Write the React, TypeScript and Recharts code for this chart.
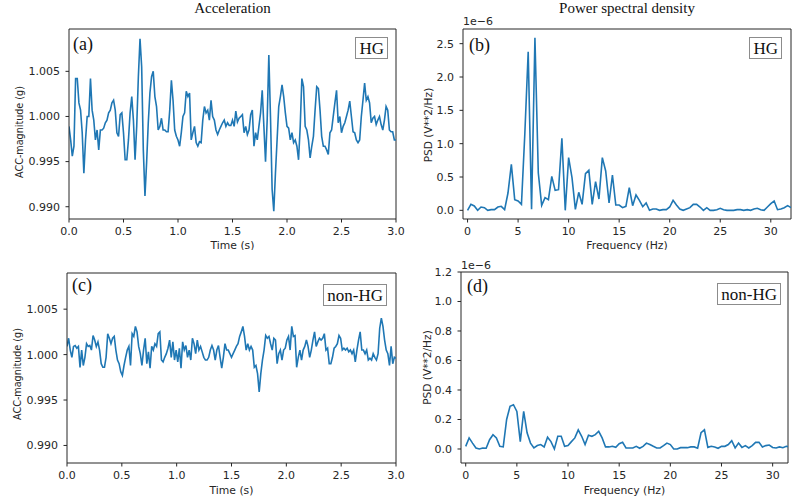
import React from 'react';
import { LineChart, Line, XAxis, YAxis, ReferenceLine, Label } from 'recharts';

// (a) acceleration magnitude, HG subject, 0..3 s (g)
const ACC_HG = [
  0.9989, 0.9974, 0.9956, 0.9967, 1.0042, 1.0042, 1.0015, 1.0007, 0.9982, 0.9937,
  0.9974, 1.0000, 1.0000, 1.0042, 1.0007, 0.9996, 0.9974, 0.9985, 0.9963, 0.9985,
  0.9985, 0.9987, 0.9993, 0.9996, 1.0004, 1.0007, 1.0015, 1.0018, 1.0007, 0.9982,
  0.9978, 1.0002, 1.0004, 0.9982, 0.9952, 0.9952, 0.9974, 1.0004, 1.0022, 0.9996,
  0.9952, 0.9989, 1.0044, 1.0086, 1.0055, 0.9963, 0.9912, 0.9949, 0.9993, 1.0026,
  1.0044, 1.0050, 1.0022, 1.0011, 0.9985, 0.9989, 0.9998, 0.9985, 0.9985, 0.9983,
  0.9983, 1.0007, 1.0040, 1.0018, 0.9985, 0.9978, 0.9974, 0.9967, 0.9982, 1.0000,
  1.0004, 1.0028, 1.0022, 1.0026, 0.9974, 0.9982, 0.9989, 0.9971, 0.9967, 0.9972,
  0.9971, 0.9996, 1.0011, 1.0004, 1.0007, 0.9996, 1.0018, 1.0000, 0.9996, 0.9985,
  0.9980, 0.9985, 0.9989, 0.9993, 0.9996, 0.9989, 0.9993, 0.9990, 0.9990, 0.9996,
  0.9989, 1.0006, 0.9994, 0.9998, 1.0000, 1.0002, 0.9982, 0.9989, 0.9980, 0.9985,
  1.0002, 1.0007, 0.9967, 0.9982, 0.9974, 0.9989, 1.0004, 1.0029, 0.9989, 0.9950,
  0.9996, 1.0068, 1.0000, 0.9919, 0.9895, 0.9937, 0.9974, 1.0011, 1.0022, 1.0035,
  1.0022, 1.0004, 0.9989, 0.9987, 0.9974, 0.9982, 0.9971, 0.9974, 0.9967, 0.9952,
  0.9989, 1.0042, 1.0033, 0.9989, 0.9985, 0.9974, 0.9954, 0.9967, 0.9978, 1.0007,
  1.0033, 1.0031, 1.0007, 0.9978, 0.9967, 0.9967, 0.9963, 0.9958, 0.9982, 0.9985,
  1.0000, 1.0015, 1.0029, 0.9993, 1.0000, 0.9982, 0.9989, 0.9993, 1.0000, 1.0007,
  1.0017, 1.0000, 0.9983, 0.9982, 0.9974, 0.9971, 0.9974, 1.0000, 1.0018, 1.0037,
  1.0018, 1.0022, 1.0015, 0.9993, 0.9998, 1.0000, 0.9991, 0.9996, 1.0000, 0.9991,
  0.9985, 0.9996, 1.0011, 1.0007, 0.9985, 0.9983, 0.9983, 0.9974, 0.9974,
];

// (c) acceleration magnitude, non-HG subject, 0..3 s (g)
const ACC_NON_HG = [
  1.0009, 1.0018, 1.0005, 0.9997, 1.0009, 1.0010, 1.0007, 1.0009, 0.9986, 1.0005,
  0.9988, 0.9997, 1.0012, 1.0009, 1.0010, 1.0005, 1.0021, 1.0016, 1.0009, 1.0014,
  1.0005, 0.9990, 0.9986, 0.9986, 0.9997, 1.0023, 1.0018, 1.0012, 1.0018, 1.0020,
  1.0005, 0.9994, 0.9990, 0.9981, 0.9977, 0.9988, 0.9997, 1.0005, 1.0009, 0.9988,
  1.0023, 1.0020, 1.0031, 1.0025, 1.0009, 1.0001, 0.9988, 1.0005, 1.0018, 0.9990,
  1.0003, 0.9985, 1.0009, 1.0005, 1.0012, 1.0009, 1.0023, 1.0025, 0.9994, 0.9992,
  0.9997, 1.0001, 1.0007, 1.0016, 0.9997, 1.0014, 0.9994, 1.0005, 0.9992, 1.0007,
  0.9985, 1.0014, 1.0005, 1.0010, 0.9997, 1.0005, 0.9994, 1.0018, 1.0012, 1.0001,
  1.0016, 1.0005, 1.0009, 1.0003, 0.9997, 0.9994, 0.9994, 0.9997, 1.0005, 1.0010,
  1.0005, 0.9994, 1.0005, 1.0010, 0.9997, 0.9985, 0.9997, 1.0012, 1.0005, 1.0005,
  1.0001, 0.9997, 1.0001, 1.0005, 1.0009, 1.0012, 1.0020, 1.0025, 1.0031, 1.0020,
  1.0005, 1.0012, 1.0005, 1.0009, 1.0005, 0.9986, 0.9988, 0.9979, 0.9959, 0.9979,
  0.9994, 1.0005, 1.0021, 1.0018, 1.0020, 1.0012, 1.0005, 1.0018, 1.0016, 0.9990,
  1.0001, 1.0005, 0.9994, 1.0005, 1.0007, 1.0016, 1.0020, 1.0005, 1.0031, 1.0020,
  1.0021, 0.9986, 0.9997, 1.0005, 0.9994, 1.0005, 1.0009, 1.0016, 1.0009, 0.9997,
  1.0005, 1.0016, 1.0025, 1.0009, 1.0014, 1.0018, 1.0016, 1.0018, 1.0023, 1.0005,
  1.0007, 0.9990, 0.9990, 0.9997, 1.0007, 1.0009, 1.0012, 1.0021, 1.0018, 1.0005,
  1.0007, 1.0005, 1.0007, 1.0003, 1.0005, 1.0001, 1.0005, 0.9992, 1.0005, 1.0016,
  1.0025, 1.0005, 1.0005, 1.0001, 1.0005, 0.9994, 0.9996, 0.9994, 1.0001, 0.9997,
  0.9994, 1.0001, 1.0029, 1.0040, 1.0031, 1.0016, 1.0005, 1.0001, 0.9988, 1.0009,
  0.9990, 0.9997, 0.9996,
];

// (b) PSD, HG subject, in units of 1e-6 V**2/Hz, bins every 1/3 Hz from 0 Hz
const PSD_HG = [
  0.00, 0.09, 0.065, 0.00, 0.05, 0.04, 0.00, 0.01, 0.01, 0.05,
  0.06, 0.01, 0.26, 0.69, 0.16, 0.14, 0.09, 1.15, 2.38, 0.015,
  2.59, 0.56, 0.075, 0.19, 0.16, 0.51, 0.30, 0.31, 1.08, 0.00,
  0.79, 0.49, 0.015, 0.27, 0.09, 0.55, 0.60, 0.09, 0.43, 0.17,
  0.79, 0.59, 0.11, 0.53, 0.08, 0.08, 0.04, 0.06, 0.34, 0.07,
  0.23, 0.15, 0.055, 0.11, 0.00, 0.02, 0.02, 0.00, 0.01, 0.01,
  0.05, 0.15, 0.08, 0.02, 0.00, 0.02, 0.04, 0.09, 0.09, 0.05,
  0.00, 0.04, 0.00, 0.00, 0.01, 0.03, 0.01, 0.00, 0.00, 0.00,
  0.01, 0.01, 0.00, 0.01, 0.00, 0.02, 0.03, 0.01, 0.00, 0.05,
  0.10, 0.14, 0.01, 0.02, 0.04, 0.07, 0.04,
];

// (d) PSD, non-HG subject, same units and bins
const PSD_NON_HG = [
  0.018, 0.075, 0.04, 0.007, 0.0, 0.007, 0.005, 0.063, 0.097, 0.075,
  0.018, 0.014, 0.20, 0.29, 0.30, 0.255, 0.05, 0.255, 0.11, 0.04,
  0.007, 0.023, 0.03, 0.014, 0.08, 0.05, 0.0, 0.086, 0.086, 0.018,
  0.023, 0.05, 0.075, 0.13, 0.086, 0.03, 0.093, 0.086, 0.097, 0.12,
  0.075, 0.014, 0.014, 0.018, 0.011, 0.036, 0.045, 0.007, 0.007, 0.007,
  0.018, 0.005, 0.018, 0.04, 0.03, 0.018, 0.007, 0.007, 0.023, 0.04,
  0.03, 0.0, 0.0, 0.009, 0.009, 0.009, 0.014, 0.014, 0.005, 0.11,
  0.13, 0.011, 0.018, 0.014, 0.005, 0.018, 0.018, 0.03, 0.056, 0.007,
  0.04, 0.011, 0.023, 0.007, 0.023, 0.045, 0.045, 0.014, 0.023, 0.027,
  0.01, 0.007, 0.014, 0.009, 0.018, 0.014, 0.01,
];

const DURATION = 3; // seconds
const FREQ_STEP = 1 / 3; // Hz per PSD bin

const TIME_TICKS = [0, 0.5, 1, 1.5, 2, 2.5, 3];
const ACC_TICKS = [0.99, 0.995, 1.0, 1.005];
const FREQ_TICKS = [0, 5, 10, 15, 20, 25, 30];
const PSD_HG_TICKS = [0, 0.5, 1.0, 1.5, 2.0, 2.5];
const PSD_NON_HG_TICKS = [0, 0.2, 0.4, 0.6, 0.8, 1.0, 1.2];

const toSeries = (values: number[], step: number) =>
  values.map((v, i) => ({ x: i * step, v }));

const accHgData = toSeries(ACC_HG, DURATION / (ACC_HG.length - 1));
const accNonHgData = toSeries(ACC_NON_HG, DURATION / (ACC_NON_HG.length - 1));
const psdHgData = toSeries(PSD_HG, FREQ_STEP);
const psdNonHgData = toSeries(PSD_NON_HG, FREQ_STEP);

const BLUE = '#1f77b4';
const INK = '#262626';
const SANS = '"DejaVu Sans", sans-serif';
const SERIF = '"Liberation Serif", "Times New Roman", serif';

const tickStyle = { fontSize: 11, fill: INK, fontFamily: SANS };

type PanelProps = {
  left: number;
  top: number;
  width: number;
  height: number;
  margin: { top: number; right: number; bottom: number; left: number };
  yWidth: number;
  xHeight: number;
  data: { x: number; v: number }[];
  xDomain: [number, number];
  xTicks: number[];
  xDigits: number;
  xLabel: string;
  xLabelGap: number;
  yDomain: [number, number];
  yTicks: number[];
  yDigits: number;
  yLabel: string;
  yLabelX: number;
  yLabelShift: number;
  yLabelSize: number;
};

function Panel(p: PanelProps) {
  return (
    <div style={{ position: 'absolute', left: p.left, top: p.top }}>
      <LineChart width={p.width} height={p.height} data={p.data} margin={p.margin}>
        <XAxis
          dataKey="x"
          type="number"
          domain={p.xDomain}
          ticks={p.xTicks}
          interval={0}
          allowDataOverflow
          tickFormatter={(v: number) => v.toFixed(p.xDigits)}
          height={p.xHeight}
          tickSize={3.5}
          tickMargin={5}
          stroke={INK}
          tick={tickStyle}
        >
          <Label
            content={({ viewBox }: any) => (
              <text
                x={viewBox.x + viewBox.width / 2}
                y={viewBox.y + p.xLabelGap}
                textAnchor="middle"
                dominantBaseline="central"
                fontSize={10.8}
                fill={INK}
                fontFamily={SANS}
              >
                {p.xLabel}
              </text>
            )}
          />
        </XAxis>
        <YAxis
          type="number"
          domain={p.yDomain}
          ticks={p.yTicks}
          interval={0}
          allowDataOverflow
          tickFormatter={(v: number) => v.toFixed(p.yDigits)}
          width={p.yWidth}
          tickSize={3.5}
          tickMargin={5.5}
          stroke={INK}
          tick={tickStyle}
        >
          <Label
            content={({ viewBox }: any) => {
              const cy = viewBox.y + viewBox.height / 2 + p.yLabelShift;
              return (
                <text
                  x={p.yLabelX}
                  y={cy}
                  transform={`rotate(-90 ${p.yLabelX} ${cy})`}
                  textAnchor="middle"
                  dominantBaseline="central"
                  fontSize={p.yLabelSize}
                  fill={INK}
                  fontFamily={SANS}
                >
                  {p.yLabel}
                </text>
              );
            }}
          />
        </YAxis>
        {/* top and right spines */}
        <ReferenceLine y={p.yDomain[1]} stroke={INK} strokeWidth={1} />
        <ReferenceLine x={p.xDomain[1]} stroke={INK} strokeWidth={1} />
        <Line
          dataKey="v"
          type="linear"
          stroke={BLUE}
          strokeWidth={1.6}
          dot={false}
          isAnimationActive={false}
        />
      </LineChart>
    </div>
  );
}

const boxStyle: React.CSSProperties = {
  position: 'absolute',
  border: '1px solid #8c8c8c',
  padding: '0 3px',
  height: 20,
  lineHeight: '21px',
  fontSize: 17,
  fontFamily: SERIF,
  color: '#111',
  background: '#fff',
};

const tagStyle: React.CSSProperties = {
  position: 'absolute',
  fontSize: 18,
  lineHeight: '18px',
  fontFamily: SERIF,
  color: '#111',
};

const titleStyle: React.CSSProperties = {
  position: 'absolute',
  top: 1,
  fontSize: 15,
  lineHeight: '15px',
  fontFamily: SERIF,
  color: '#111',
  textAlign: 'center',
};

const offsetStyle: React.CSSProperties = {
  position: 'absolute',
  fontSize: 11,
  lineHeight: '12px',
  fontFamily: SANS,
  color: INK,
};

export default function App() {
  return (
    <div
      style={{
        position: 'absolute',
        left: 0,
        top: 0,
        width: 800,
        height: 499,
        background: '#fff',
        fontFamily: SANS,
        overflow: 'hidden',
      }}
    >
      <div style={{ ...titleStyle, left: 69, width: 327 }}>Acceleration</div>
      <div style={{ ...titleStyle, left: 463, width: 328 }}>Power spectral density</div>

      <Panel
        left={400}
        top={0}
        width={400}
        height={250}
        margin={{ top: 29, right: 9, bottom: 0, left: 0 }}
        yWidth={63}
        xHeight={31}
        data={psdHgData}
        xDomain={[-0.45, 32]}
        xTicks={FREQ_TICKS}
        xDigits={0}
        xLabel="Frequency (Hz)"
        xLabelGap={26}
        yDomain={[-0.13, 2.72]}
        yTicks={PSD_HG_TICKS}
        yDigits={1}
        yLabel="PSD (V**2/Hz)"
        yLabelX={28}
        yLabelShift={1}
        yLabelSize={10.6}
      />
      <Panel
        left={400}
        top={250}
        width={400}
        height={249}
        margin={{ top: 22, right: 12, bottom: 0, left: 0 }}
        yWidth={61}
        xHeight={36}
        data={psdNonHgData}
        xDomain={[-0.46, 31.5]}
        xTicks={FREQ_TICKS}
        xDigits={0}
        xLabel="Frequency (Hz)"
        xLabelGap={27}
        yDomain={[-0.095, 1.2]}
        yTicks={PSD_NON_HG_TICKS}
        yDigits={1}
        yLabel="PSD (V**2/Hz)"
        yLabelX={26.5}
        yLabelShift={0}
        yLabelSize={10.6}
      />
      <Panel
        left={0}
        top={0}
        width={420}
        height={250}
        margin={{ top: 29, right: 24, bottom: 0, left: 0 }}
        yWidth={69}
        xHeight={31}
        data={accHgData}
        xDomain={[0, 3]}
        xTicks={TIME_TICKS}
        xDigits={1}
        xLabel="Time (s)"
        xLabelGap={26}
        yDomain={[0.98864, 1.00969]}
        yTicks={ACC_TICKS}
        yDigits={3}
        yLabel="ACC-magnitude (g)"
        yLabelX={19}
        yLabelShift={8}
        yLabelSize={9.6}
      />
      <Panel
        left={0}
        top={250}
        width={420}
        height={249}
        margin={{ top: 23, right: 24, bottom: 0, left: 0 }}
        yWidth={67}
        xHeight={36}
        data={accNonHgData}
        xDomain={[0, 3]}
        xTicks={TIME_TICKS}
        xDigits={1}
        xLabel="Time (s)"
        xLabelGap={27}
        yDomain={[0.98807, 1.00898]}
        yTicks={ACC_TICKS}
        yDigits={3}
        yLabel="ACC-magnitude (g)"
        yLabelX={17.5}
        yLabelShift={6}
        yLabelSize={9.6}
      />

      <div style={{ ...offsetStyle, left: 463, top: 16 }}>1e−6</div>
      <div style={{ ...offsetStyle, left: 461, top: 260 }}>1e−6</div>

      <div style={{ ...tagStyle, left: 73, top: 35 }}>(a)</div>
      <div style={{ ...tagStyle, left: 469, top: 36 }}>(b)</div>
      <div style={{ ...tagStyle, left: 72, top: 276 }}>(c)</div>
      <div style={{ ...tagStyle, left: 467, top: 277 }}>(d)</div>

      <div style={{ ...boxStyle, right: 412, top: 37 }}>HG</div>
      <div style={{ ...boxStyle, right: 18, top: 37 }}>HG</div>
      <div style={{ ...boxStyle, right: 413, top: 284 }}>non-HG</div>
      <div style={{ ...boxStyle, right: 19, top: 283 }}>non-HG</div>
    </div>
  );
}
